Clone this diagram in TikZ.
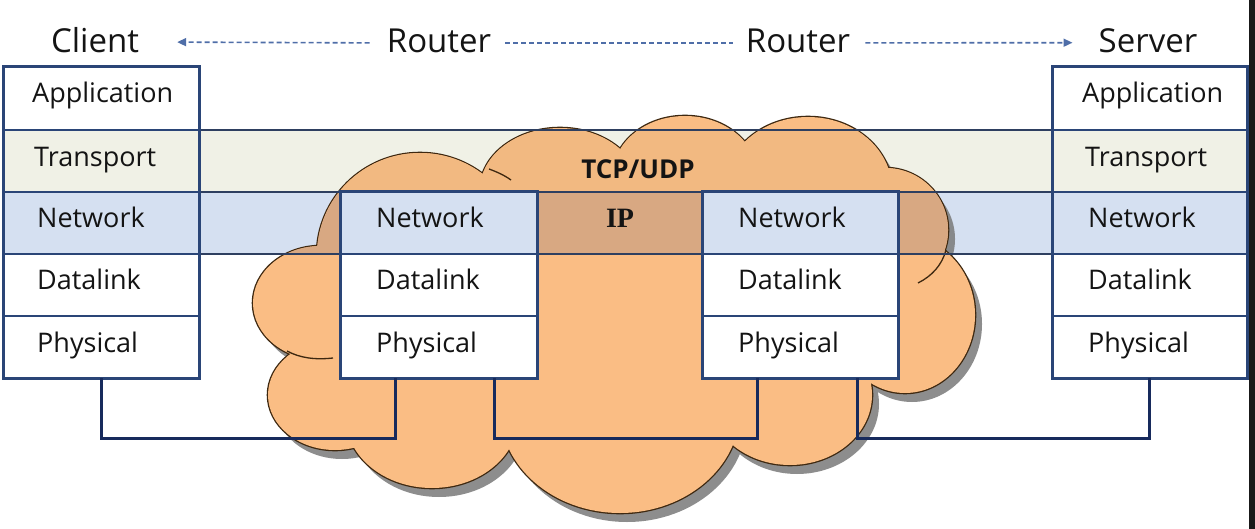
\documentclass[tikz,border=0pt]{standalone}
\usepackage{fontspec}
\setmainfont{Open Sans}
\newfontfamily\ipfont{Liberation Serif}
\usetikzlibrary{arrows.meta,calc}
\definecolor{cloudc}{HTML}{FABD84}
\definecolor{cloudl}{HTML}{3E2810}
\definecolor{transc}{HTML}{F0F1E6}
\definecolor{netc}{HTML}{D5E0F1}
\definecolor{cloudtr}{HTML}{F2B981}
\definecolor{cloudnet}{HTML}{D8A882}
\definecolor{boxc}{HTML}{2A4577}
\definecolor{connc}{HTML}{172A5C}
\definecolor{bandc}{HTML}{2E3F60}
\definecolor{dashc}{HTML}{4F6EA8}
\definecolor{shadowc}{HTML}{7A7A7A}
\definecolor{txt}{HTML}{141414}
\begin{document}
\begin{tikzpicture}[x=1pt,y=-1pt,
  toplbl/.style={font=\fontsize{33}{36}\selectfont, text=txt, anchor=base, inner sep=0pt},
  layer/.style={font=\fontsize{27}{30}\selectfont, text=txt, anchor=base west, inner sep=0pt},
  stackbox/.style={draw=boxc, line width=3pt, inner sep=0pt, outer sep=0pt},
  rowline/.style={draw=boxc, line width=1.6pt},
  bandl/.style={draw=bandc, line width=1.4pt},
  conn/.style={draw=connc, line width=3pt, line join=miter},
  dasharrow/.style={draw=dashc, line width=1.6pt, dash pattern=on 5pt off 3pt},
  innermark/.style={draw=cloudl, line width=1.3pt},
]
\useasboundingbox (0,0) rectangle (1255,529);
\fill[white] (0,0) rectangle (1255,529);
\fill[black!90] (1249,0) rectangle (1255,529);

% bands
\fill[transc] (200,130) rectangle (1052,192);
\fill[netc] (200,192) rectangle (1052,254);

\def\lobes{321/303/68/57, 420/255/103/102, 560/190/80/62, 685/175/72/59, 808/190/84/73, 885/230/63/62, 905/315/70/78, 790/395/82/70, 620/410/120/103, 432/418/86/70, 335/395/67/55, 615/300/290/140}

% shadow
\begin{scope}[opacity=0.85]
\fill[shadowc] \foreach \cx/\cy/\rx/\ry in \lobes { ($(\cx,\cy)+(7,9)$) ellipse[x radius=\rx pt, y radius=\ry pt] };
\end{scope}
% cloud
\draw[cloudl, line width=2.6pt] \foreach \cx/\cy/\rx/\ry in \lobes { (\cx,\cy) ellipse[x radius=\rx pt, y radius=\ry pt] };
\fill[cloudc] \foreach \cx/\cy/\rx/\ry in \lobes { (\cx,\cy) ellipse[x radius=\rx pt, y radius=\ry pt] };
\begin{scope}
  \clip (200,130) rectangle (1052,192);
  \fill[cloudtr] \foreach \cx/\cy/\rx/\ry in \lobes { (\cx,\cy) ellipse[x radius=\rx pt, y radius=\ry pt] };
\end{scope}
\begin{scope}
  \clip (200,192) rectangle (1052,254);
  \fill[cloudnet] \foreach \cx/\cy/\rx/\ry in \lobes { (\cx,\cy) ellipse[x radius=\rx pt, y radius=\ry pt] };
\end{scope}
\draw[innermark] (287,351) .. controls (300,358) and (315,360) .. (333,358);
\draw[innermark] (489,169) .. controls (497,172) and (504,175) .. (511,180);
\draw[innermark] (946,250) .. controls (942,265) and (932,276) .. (918,283);

% band lines
\draw[bandl] (200,130) -- (1052,130);
\draw[bandl] (200,192) -- (1052,192);
\draw[bandl] (200,254) -- (1052,254);

% client stack
\fill[white] (3,67) rectangle (199,378);
\fill[transc] (3,130) rectangle (199,192);
\fill[netc] (3,192) rectangle (199,254);
\draw[rowline] (3,130) -- (199,130) (3,192) -- (199,192) (3,254) -- (199,254) (3,316) -- (199,316);
\node[stackbox, minimum width=196pt, minimum height=311pt] (client) at (101,222.5) {};

% server stack
\fill[white] (1052,67) rectangle (1247,378);
\fill[transc] (1052,130) rectangle (1247,192);
\fill[netc] (1052,192) rectangle (1247,254);
\draw[rowline] (1052,130) -- (1247,130) (1052,192) -- (1247,192) (1052,254) -- (1247,254) (1052,316) -- (1247,316);
\node[stackbox, minimum width=195pt, minimum height=311pt] (server) at (1149.5,222.5) {};

% router 1
\fill[white] (340,192) rectangle (537,378);
\fill[netc] (340,192) rectangle (537,254);
\draw[rowline] (340,254) -- (537,254) (340,316) -- (537,316);
\node[stackbox, minimum width=197pt, minimum height=186pt] (r1) at (438.5,285) {};

% router 2
\fill[white] (702,192) rectangle (898,378);
\fill[netc] (702,192) rectangle (898,254);
\draw[rowline] (702,254) -- (898,254) (702,316) -- (898,316);
\node[stackbox, minimum width=196pt, minimum height=186pt] (r2) at (800,285) {};

% connectors
\draw[conn] (client.south) -- ++(0,60) -| ($(r1.south west)+(55,0)$);
\draw[conn] ($(r1.south east)+(-43,0)$) -- ++(0,60) -| ($(r2.south west)+(55,0)$);
\draw[conn] ($(r2.south east)+(-41,0)$) -- ++(0,60) -| (server.south);

% layer labels
\node[layer] (cA) at (32,103) {Application};
\node[layer] (cT) at (34,167) {Transport};
\node[layer] (cN) at (37,228) {Network};
\node[layer] (cD) at (37,290) {Datalink};
\node[layer] (cP) at (37,352) {Physical};

\node[layer] (sA) at (1082,103) {Application};
\node[layer] (sT) at (1085,167) {Transport};
\node[layer] (sN) at (1088,228) {Network};
\node[layer] (sD) at (1088,290) {Datalink};
\node[layer] (sP) at (1088,352) {Physical};

\node[layer] (aN) at (376,228) {Network};
\node[layer] (aD) at (376,290) {Datalink};
\node[layer] (aP) at (376,352) {Physical};

\node[layer] (bN) at (738,228) {Network};
\node[layer] (bD) at (738,290) {Datalink};
\node[layer] (bP) at (738,352) {Physical};

\node[font=\bfseries\fontsize{26}{28}\selectfont, text=txt, anchor=base, inner sep=0pt] (tcp) at (638,179) {TCP/UDP};
\node[font=\ipfont\bfseries\fontsize{28}{30}\selectfont, text=txt, anchor=base, inner sep=0pt] (ip) at (620,228) {IP};

% top labels
\node[toplbl] (cl) at (95,53) {Client};
\node[toplbl] (rt1) at (439,53) {Router};
\node[toplbl] (rt2) at (798,53) {Router};
\node[toplbl] (sv) at (1148,53) {Server};

\draw[dasharrow, -{Triangle[length=9pt,width=8pt]}] ($(rt1.west)+(-17,1.5)$) -- ($(cl.east)+(38,1.5)$);
\draw[dasharrow] ($(rt1.east)+(14,1.5)$) -- ($(rt2.west)+(-13,1.5)$);
\draw[dasharrow, -{Triangle[length=9pt,width=8pt]}] ($(rt2.east)+(15,1.5)$) -- ($(sv.west)+(-26,1.5)$);
\end{tikzpicture}
\end{document}
